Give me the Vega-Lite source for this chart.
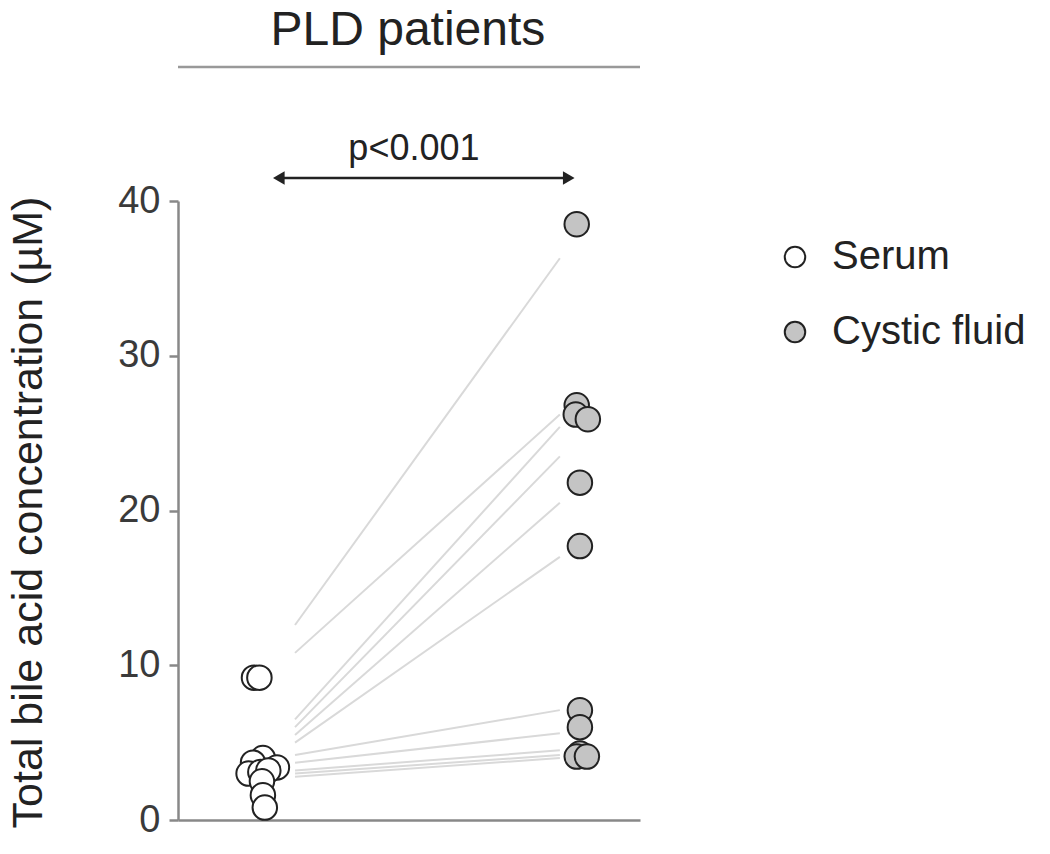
{
  "$schema": "https://vega.github.io/schema/vega-lite/v6.json",
  "width": 462,
  "height": 619,
  "autosize": {"type": "none"},
  "padding": {"left": 178, "top": 201, "right": 410, "bottom": 34},
  "background": "white",
  "config": {
    "font": "Liberation Sans",
    "view": {"stroke": null},
    "axis": {"grid": false}
  },
  "datasets": {
    "points": [
      {"group": "Serum", "value": 9.2, "xpos": 0.975},
      {"group": "Serum", "value": 9.2, "xpos": 0.992},
      {"group": "Serum", "value": 4.0, "xpos": 1.003},
      {"group": "Serum", "value": 3.7, "xpos": 0.972},
      {"group": "Serum", "value": 3.4, "xpos": 1.047},
      {"group": "Serum", "value": 3.0, "xpos": 0.958},
      {"group": "Serum", "value": 3.1, "xpos": 0.995},
      {"group": "Serum", "value": 3.2, "xpos": 1.02},
      {"group": "Serum", "value": 2.5, "xpos": 1.0},
      {"group": "Serum", "value": 1.6, "xpos": 1.003},
      {"group": "Serum", "value": 0.8, "xpos": 1.009},
      {"group": "Cystic fluid", "value": 38.5, "xpos": 1.99},
      {"group": "Cystic fluid", "value": 26.8, "xpos": 1.99},
      {"group": "Cystic fluid", "value": 26.2, "xpos": 1.987},
      {"group": "Cystic fluid", "value": 25.9, "xpos": 2.025},
      {"group": "Cystic fluid", "value": 21.8, "xpos": 2.0},
      {"group": "Cystic fluid", "value": 17.7, "xpos": 2.0},
      {"group": "Cystic fluid", "value": 7.1, "xpos": 2.0},
      {"group": "Cystic fluid", "value": 6.0, "xpos": 2.0},
      {"group": "Cystic fluid", "value": 4.3, "xpos": 2.0},
      {"group": "Cystic fluid", "value": 4.1, "xpos": 1.99},
      {"group": "Cystic fluid", "value": 4.1, "xpos": 2.022}
    ],
    "lines": [
      {"pair": 1, "x": 1.104, "value": 12.6}, {"pair": 1, "x": 1.937, "value": 36.3},
      {"pair": 2, "x": 1.104, "value": 10.8}, {"pair": 2, "x": 1.937, "value": 26.2},
      {"pair": 3, "x": 1.104, "value": 6.5}, {"pair": 3, "x": 1.937, "value": 25.4},
      {"pair": 4, "x": 1.104, "value": 6.0}, {"pair": 4, "x": 1.937, "value": 23.5},
      {"pair": 5, "x": 1.104, "value": 5.5}, {"pair": 5, "x": 1.937, "value": 20.5},
      {"pair": 6, "x": 1.104, "value": 5.0}, {"pair": 6, "x": 1.937, "value": 17.0},
      {"pair": 7, "x": 1.104, "value": 4.2}, {"pair": 7, "x": 1.937, "value": 7.1},
      {"pair": 8, "x": 1.104, "value": 3.7}, {"pair": 8, "x": 1.937, "value": 5.6},
      {"pair": 9, "x": 1.104, "value": 3.2}, {"pair": 9, "x": 1.937, "value": 4.5},
      {"pair": 10, "x": 1.104, "value": 3.0}, {"pair": 10, "x": 1.937, "value": 4.2},
      {"pair": 11, "x": 1.104, "value": 2.8}, {"pair": 11, "x": 1.937, "value": 4.0}
    ]
  },
  "layer": [
    {
      "data": {"name": "lines"},
      "mark": {"type": "line", "color": "#d9d9d9", "strokeWidth": 2},
      "encoding": {
        "x": {"field": "x", "type": "quantitative", "scale": {"domain": [0.736, 2.189], "nice": false, "zero": false},
              "axis": {"title": null, "labels": false, "ticks": false, "domainColor": "#888888", "domainWidth": 2.5}},
        "y": {"field": "value", "type": "quantitative", "scale": {"domain": [0, 40], "nice": false},
              "axis": {"values": [0, 10, 20, 30, 40], "title": "Total bile acid concentration (µM)",
                       "domainColor": "#888888", "domainWidth": 2.5, "tickColor": "#888888", "tickWidth": 2.5, "tickSize": 9,
                       "labelFontSize": 38, "labelColor": "#3a3a3a", "labelPadding": 9,
                       "titleFontSize": 43, "titleFontWeight": "normal", "titleColor": "#222222",
                       "titleX": -128, "titleY": 311, "titleAngle": -90, "titleAlign": "center", "titleBaseline": "bottom"}},
        "detail": {"field": "pair"}
      }
    },
    {
      "data": {"name": "points"},
      "mark": {"type": "point", "filled": true, "shape": "circle", "size": 600, "stroke": "#222222", "strokeWidth": 2, "opacity": 1},
      "encoding": {
        "x": {"field": "xpos", "type": "quantitative"},
        "y": {"field": "value", "type": "quantitative"},
        "fill": {"field": "group", "type": "nominal",
                 "scale": {"domain": ["Serum", "Cystic fluid"], "range": ["#ffffff", "#c4c4c4"]},
                 "legend": {"title": null, "orient": "none", "legendX": 597, "legendY": 36,
                            "symbolSize": 420, "symbolStrokeColor": "#222222", "symbolStrokeWidth": 2,
                            "labelFontSize": 40, "labelColor": "#222222", "labelOffset": 17, "rowPadding": 35, "labelLimit": 400}}
      }
    },
    {
      "data": {"values": [{}]},
      "mark": {"type": "rule", "color": "#999999", "strokeWidth": 2.5},
      "encoding": {"x": {"datum": 0.736}, "x2": {"datum": 2.189}, "y": {"datum": 48.66}}
    },
    {
      "data": {"values": [{}]},
      "mark": {"type": "text", "fontSize": 48, "color": "#222222", "baseline": "alphabetic", "align": "center"},
      "encoding": {"x": {"datum": 1.459}, "y": {"datum": 50.1}, "text": {"value": "PLD patients"}}
    },
    {
      "data": {"values": [{}]},
      "mark": {"type": "rule", "color": "#222222", "strokeWidth": 2.5},
      "encoding": {"x": {"datum": 1.05}, "x2": {"datum": 1.965}, "y": {"datum": 41.49}}
    },
    {
      "data": {"values": [{}]},
      "mark": {"type": "point", "shape": "triangle-left", "filled": true, "color": "#222222", "size": 180, "opacity": 1},
      "encoding": {"x": {"datum": 1.053}, "y": {"datum": 41.49}}
    },
    {
      "data": {"values": [{}]},
      "mark": {"type": "point", "shape": "triangle-right", "filled": true, "color": "#222222", "size": 180, "opacity": 1},
      "encoding": {"x": {"datum": 1.965}, "y": {"datum": 41.49}}
    },
    {
      "data": {"values": [{}]},
      "mark": {"type": "text", "fontSize": 36, "color": "#222222", "baseline": "alphabetic", "align": "center"},
      "encoding": {"x": {"datum": 1.478}, "y": {"datum": 42.65}, "text": {"value": "p<0.001"}}
    }
  ]
}
